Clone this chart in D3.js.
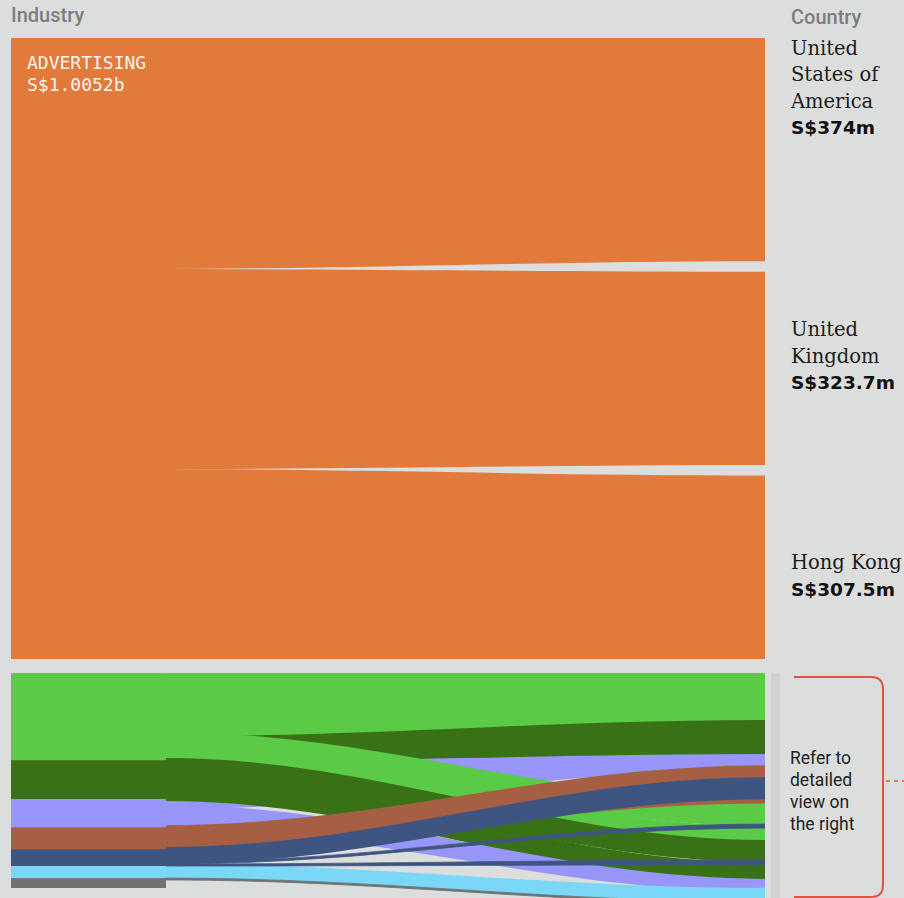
<!DOCTYPE html>
<html>
<head>
<meta charset="utf-8">
<script src="https://cdn.jsdelivr.net/npm/d3@7"></script>
<style>
  body { margin: 0; background: #dcdedd; }
  svg { display: block; }
</style>
</head>
<body>
<svg id="chart"></svg>
<script>
/**************************
 * Data (S$ millions)
 **************************/
// top block: advertising, split by country
var adIndustry = "ADVERTISING";
var adTotalLabel = "S$1.0052b";
var adCountries = ["United States of America", "United Kingdom", "Hong Kong"];
var adValues = [374, 323.7, 307.5];
var adNameLines = [["United", "States of", "America"], ["United", "Kingdom"], ["Hong Kong"]];
var adValueLabels = ["S$374m", "S$323.7m", "S$307.5m"];

// bottom block: the other industries (their detail is in the other panel)
var otherIndustries = ["Industry B", "Industry C", "Industry D", "Industry E", "Industry F", "Industry G", "Industry H"];
var otherIndustryValues = [141, 63, 45.5, 35.5, 27.5, 19.5, 16];
var otherCountries = ["Country 1", "Country 2", "Country 3", "Country 4", "Country 5", "Country 6"];

// flows, in drawing order (later ones sit on top)
var flowSource = ["Industry D", "Industry C", "Industry B", "Industry B", "Industry B", "Industry C",
                  "Industry C", "Industry D", "Industry G", "Industry G", "Industry H", "Industry H",
                  "Industry E", "Industry E", "Industry F", "Industry F", "Industry F"];
var flowTarget = ["Country 1", "Country 1", "Country 3", "Country 4", "Country 1", "Country 4",
                  "Country 5", "Country 5", "Country 5", "Country 6", "Country 6", "not stated",
                  "Country 2", "Country 1", "Country 1", "Country 3", "Country 4"];
// width of each flow where it leaves the industry bar, and where it reaches the country
var flowAtIndustry = [76, 42, 24, 18, 99, 32.5,
                      30.5, 32.5, 11.5, 8, 3, 13,
                      1.5, 34, 21, 3.25, 3.25];
var flowAtCountry = [24.5, 55, 34, 22.5, 73, 29,
                     26, 14.5, 11.5, 8, 3, 13,
                     9.5, 19.5, 29, 6.5, 8];

/**************************
 * Layout
 **************************/
var W = 904, H = 898;
var orange = "#e17a3b";
var industryColors = ["#5bca46", "#397216", "#9896f9", "#a65f43", "#3e5582", "#7ad7f5", "#707170"];
var nodeX0 = 11, adNodeX1 = 135, otherNodeX1 = 166, linkX1 = 765;
var rightNodeX = 771, rightNodeW = 9;
var adPad = 10.5;
var curviness = 0.36;   // control point offset as a share of the link length
// shift of each country label block from the middle of its band
var adLabelDy = [-95, -32, 2];

var svg = d3.select("#chart").attr("width", W).attr("height", H);
svg.append("rect").attr("width", W).attr("height", H).attr("fill", "#dcdedd");

function band(x0, x1, s0, s1, t0, t1) {
	var c0 = x0 + (x1 - x0) * curviness, c1 = x1 - (x1 - x0) * curviness, p = d3.path();
	p.moveTo(x0, s0);
	p.bezierCurveTo(c0, s0, c1, t0, x1, t0);
	p.lineTo(x1, t1);
	p.bezierCurveTo(c1, t1, c0, s1, x0, s1);
	p.closePath();
	return p.toString();
}

/* ---- top block ---- */
var adTotal = d3.sum(adValues);
var yAdL = d3.scaleLinear().domain([0, adTotal]).range([38, 659]);
var yAdR = d3.scaleLinear().domain([0, adTotal]).range([38, 659 - adPad * (adValues.length - 1)]);
var adCum = d3.cumsum(adValues);
var adLinks = adValues.map(function(v, i) {
	var c0 = i ? adCum[i - 1] : 0;
	return {
		s0: yAdL(c0), s1: yAdL(adCum[i]),
		t0: yAdR(c0) + i * adPad, t1: yAdR(adCum[i]) + i * adPad
	};
});

svg.append("rect")
	.attr("x", nodeX0).attr("y", yAdL(0))
	.attr("width", adNodeX1 - nodeX0).attr("height", yAdL(adTotal) - yAdL(0))
	.attr("fill", orange);

svg.append("g").selectAll("path").data(adLinks).join("path")
	.attr("d", function(d) { return band(adNodeX1 - 0.5, linkX1, d.s0, d.s1, d.t0, d.t1); })
	.attr("fill", orange);

var adText = svg.append("text")
	.attr("x", 27).attr("y", 69)
	.attr("fill", "#fff4ea")
	.style("font-family", "'DejaVu Sans Mono', monospace")
	.style("font-size", "18px");
adText.append("tspan").text(adIndustry);
adText.append("tspan").attr("x", 27).attr("dy", 21.5).text(adTotalLabel);

var labels = svg.append("g").selectAll("g").data(adLinks).join("g")
	.attr("transform", function(d, i) {
		return "translate(791," + ((d.t0 + d.t1) / 2 + adLabelDy[i]) + ")";
	});
labels.each(function(d, i) {
	var g = d3.select(this);
	var lines = adNameLines[i];
	lines.forEach(function(line, j) {
		g.append("text").attr("y", j * 26.5).text(line)
			.attr("fill", "#1b1b1b")
			.style("font-family", "'DejaVu Serif', serif")
			.style("font-size", "19.5px");
	});
	g.append("text").attr("y", lines.length * 26.5).text(adValueLabels[i])
		.attr("fill", "#111")
		.style("font-family", "'DejaVu Sans', sans-serif")
		.style("font-weight", "bold")
		.style("font-size", "18.5px");
});

/* ---- bottom block ---- */
// same pixels per S$ as the top block
var yOther = d3.scaleLinear().domain([0, adTotal]).range([673, 673 + (yAdL(adTotal) - yAdL(0))]);

var indIndex = new Map(otherIndustries.map(function(d, i) { return [d, i]; }));
var ctyIndex = new Map(otherCountries.map(function(d, i) { return [d, i]; }));
var flows = flowSource.map(function(s, i) {
	return { source: s, target: flowTarget[i], left: flowAtIndustry[i], right: flowAtCountry[i], order: i };
});

var indCum = d3.cumsum(otherIndustryValues);
var indStart = otherIndustryValues.map(function(v, i) { return i ? indCum[i - 1] : 0; });

var ctyValues = otherCountries.map(function(c) {
	return d3.sum(flows.filter(function(f) { return f.target === c; }), function(f) { return f.right; });
});
var ctyCum = d3.cumsum(ctyValues);
var ctyStart = ctyValues.map(function(v, i) { return i ? ctyCum[i - 1] : 0; });

// industry end: stacked by country order; a stack taller than its bar rises above it
d3.group(flows, function(f) { return f.source; }).forEach(function(list, src) {
	var si = indIndex.get(src);
	list.sort(function(a, b) {
		var ai = ctyIndex.has(a.target) ? ctyIndex.get(a.target) : 99;
		var bi = ctyIndex.has(b.target) ? ctyIndex.get(b.target) : 99;
		return ai - bi;
	});
	var off = Math.min(indStart[si], indCum[si] - d3.sum(list, function(f) { return f.left; }));
	list.forEach(function(f) {
		f.s0 = yOther(off);
		off += f.left;
		f.s1 = yOther(off);
	});
});
// country end
d3.group(flows, function(f) { return f.target; }).forEach(function(list, tgt) {
	if (!ctyIndex.has(tgt)) return;
	list.sort(function(a, b) { return indIndex.get(a.source) - indIndex.get(b.source); });
	var off = ctyStart[ctyIndex.get(tgt)];
	list.forEach(function(f) {
		f.t0 = yOther(off);
		off += f.right;
		f.t1 = yOther(off);
	});
});

svg.append("g").selectAll("rect").data(otherCountries).join("rect")
	.attr("x", rightNodeX)
	.attr("y", function(d, i) { return yOther(ctyStart[i]); })
	.attr("width", rightNodeW)
	.attr("height", function(d, i) { return yOther(ctyCum[i]) - yOther(ctyStart[i]); })
	.attr("fill", "#d1d2d4");

svg.append("clipPath").attr("id", "flowClip")
	.append("rect")
	.attr("x", otherNodeX1 - 1).attr("y", yOther(0))
	.attr("width", linkX1 - otherNodeX1 + 1).attr("height", H - yOther(0));

svg.append("g").attr("clip-path", "url(#flowClip)")
	.selectAll("path")
	.data(flows.filter(function(f) { return ctyIndex.has(f.target); }).sort(function(a, b) { return a.order - b.order; }))
	.join("path")
	.attr("d", function(f) { return band(otherNodeX1 - 0.5, linkX1, f.s0, f.s1, f.t0, f.t1); })
	.attr("fill", function(f) { return industryColors[indIndex.get(f.source)]; })
	.attr("stroke", function(f) { return industryColors[indIndex.get(f.source)]; })
	// a soft edge closes hairline seams between neighbouring bands
	.attr("stroke-width", function(f) { return Math.min(f.s1 - f.s0, f.t1 - f.t0) >= 4 ? 4 : 0.8; })
	.attr("stroke-linejoin", "round");

svg.append("g").selectAll("rect").data(otherIndustries).join("rect")
	.attr("x", nodeX0)
	.attr("y", function(d, i) { return yOther(indStart[i]); })
	.attr("width", otherNodeX1 - nodeX0)
	.attr("height", function(d, i) { return yOther(indCum[i]) - yOther(indStart[i]); })
	.attr("fill", function(d, i) { return industryColors[i]; });

/* ---- headers ---- */
svg.append("text").attr("x", 11).attr("y", 22).text("Industry")
	.attr("fill", "#7c7d7d")
	.style("font-family", "Roboto, sans-serif").style("font-weight", 500).style("font-size", "20px");
svg.append("text").attr("x", 791).attr("y", 24).text("Country")
	.attr("fill", "#7c7d7d")
	.style("font-family", "Roboto, sans-serif").style("font-weight", 500).style("font-size", "20px");

/* ---- note + bracket ---- */
var bTop = yOther(0) + 4, bBot = 897, bX = 883, r = 12;
var br = d3.path();
br.moveTo(794, bTop);
br.lineTo(bX - r, bTop);
br.quadraticCurveTo(bX, bTop, bX, bTop + r);
br.lineTo(bX, bBot - r);
br.quadraticCurveTo(bX, bBot, bX - r, bBot);
br.lineTo(794, bBot);
svg.append("path").attr("d", br.toString())
	.attr("fill", "none").attr("stroke", "#e4533f").attr("stroke-width", 2);
svg.append("line").attr("x1", 886).attr("x2", 904).attr("y1", 781).attr("y2", 781)
	.attr("stroke", "#e4533f").attr("stroke-width", 1.5).attr("stroke-dasharray", "4,4");

var note = svg.append("text").attr("x", 790).attr("y", 764)
	.attr("fill", "#1e1e1e")
	.style("font-family", "Roboto, sans-serif").style("font-size", "17.5px");
["Refer to", "detailed", "view on", "the right"].forEach(function(t, i) {
	note.append("tspan").attr("x", 790).attr("dy", i ? 22 : 0).text(t);
});
</script>
</body>
</html>
